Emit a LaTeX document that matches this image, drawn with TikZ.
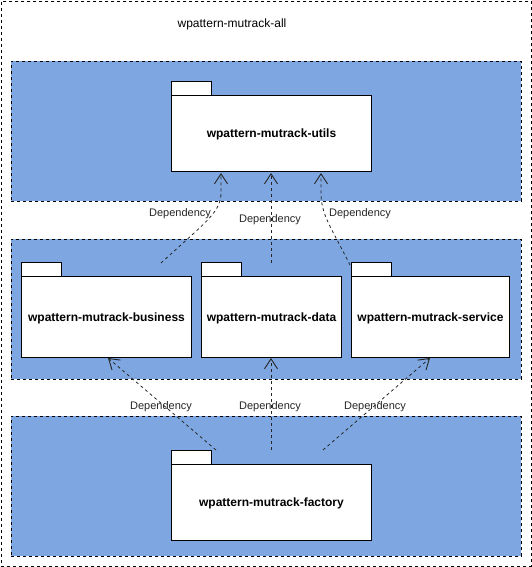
\documentclass[tikz,border=0pt]{standalone}
\usepackage{fontspec}
\setmainfont{Liberation Sans}
\usetikzlibrary{arrows.meta}
\definecolor{bandblue}{HTML}{7EA6E0}
\tikzset{
  band/.style={draw=black, fill=bandblue, dash pattern=on 3pt off 3pt, line width=0.8pt},
  frame/.style={draw=black, dash pattern=on 3pt off 3pt, line width=0.8pt},
  pkgbody/.style={draw=black, fill=white, line width=1pt, inner sep=0pt, text depth=-1.5pt, font=\fontsize{12}{14}\selectfont\bfseries},
  pkgtab/.style={draw=black, fill=white, line width=1pt, inner sep=0pt},
  dep/.style={draw=black!85, dash pattern=on 3pt off 3pt, line width=0.8pt, -{Straight Barb[length=10pt,width=13pt,line width=0.9pt]}},
  deplabel/.style={font=\fontsize{11}{13}\selectfont, text=black!85, inner sep=1pt, yshift=-1.5pt},
}
\begin{document}
\begin{tikzpicture}[x=1pt,y=-1pt]
\useasboundingbox (0,0) rectangle (532,567);
\node[frame, minimum width=530pt, minimum height=565pt, inner sep=0pt, anchor=north west] (all) at (1,1) {};
\node[font=\fontsize{12}{14}\selectfont] (title) at (232,24) {wpattern-mutrack-all};
% bands
\node[band, minimum width=510pt, minimum height=140pt, inner sep=0pt, anchor=north west] (bandtop) at (11,61) {};
\node[band, minimum width=510pt, minimum height=140pt, inner sep=0pt, anchor=north west] (bandmid) at (11,239) {};
\node[band, minimum width=510pt, minimum height=140pt, inner sep=0pt, anchor=north west] (bandbot) at (11,416) {};
% packages
\node[pkgtab, minimum width=40pt, minimum height=14pt, anchor=north west] (utilstab) at (171,81) {};
\node[pkgbody, minimum width=200pt, minimum height=76pt, anchor=north west] (utils) at (171,95) {wpattern-mutrack-utils};
\node[pkgtab, minimum width=40pt, minimum height=14pt, anchor=north west] (bustab) at (21,262) {};
\node[pkgbody, minimum width=170pt, minimum height=81pt, anchor=north west] (business) at (21,276) {wpattern-mutrack-business};
\node[pkgtab, minimum width=40pt, minimum height=14pt, anchor=north west] (datatab) at (201,262) {};
\node[pkgbody, minimum width=140pt, minimum height=81pt, anchor=north west] (data) at (201,276) {wpattern-mutrack-data};
\node[pkgtab, minimum width=40pt, minimum height=14pt, anchor=north west] (servtab) at (351,262) {};
\node[pkgbody, minimum width=158pt, minimum height=81pt, anchor=north west] (service) at (351,276) {wpattern-mutrack-service};
\node[pkgtab, minimum width=40pt, minimum height=14pt, anchor=north west] (factab) at (171,450) {};
\node[pkgbody, minimum width=200pt, minimum height=76pt, anchor=north west] (factory) at (171,464) {wpattern-mutrack-factory};
% connector endpoints
\coordinate (b1) at (161,263);
\coordinate (u1) at (221,173);
\coordinate (d1) at (271,263);
\coordinate (u2) at (271,173);
\coordinate (s1) at (350,265);
\coordinate (u3) at (321,173);
\coordinate (f1) at (216,450);
\coordinate (bb) at (108,358);
\coordinate (f2) at (271,450);
\coordinate (db) at (271,358);
\coordinate (f3) at (323,450);
\coordinate (sb) at (430,358);
% connectors
\draw[dep] (b1) .. controls (208,220) and (221,212) .. (221,192) -- (u1);
\draw[dep] (d1) -- (u2);
\draw[dep] (s1) .. controls (330,225) and (321,215) .. (321,192) -- (u3);
\draw[dep] (f1) -- (bb);
\draw[dep] (f2) -- (db);
\draw[dep] (f3) -- (sb);
% labels
\node[deplabel] (l1) at (180,212) {Dependency};
\node[deplabel] (l2) at (270,218) {Dependency};
\node[deplabel] (l3) at (360,212) {Dependency};
\node[deplabel] (l4) at (161,405) {Dependency};
\node[deplabel] (l5) at (270,405) {Dependency};
\node[deplabel] (l6) at (375,405) {Dependency};
\end{tikzpicture}
\end{document}
